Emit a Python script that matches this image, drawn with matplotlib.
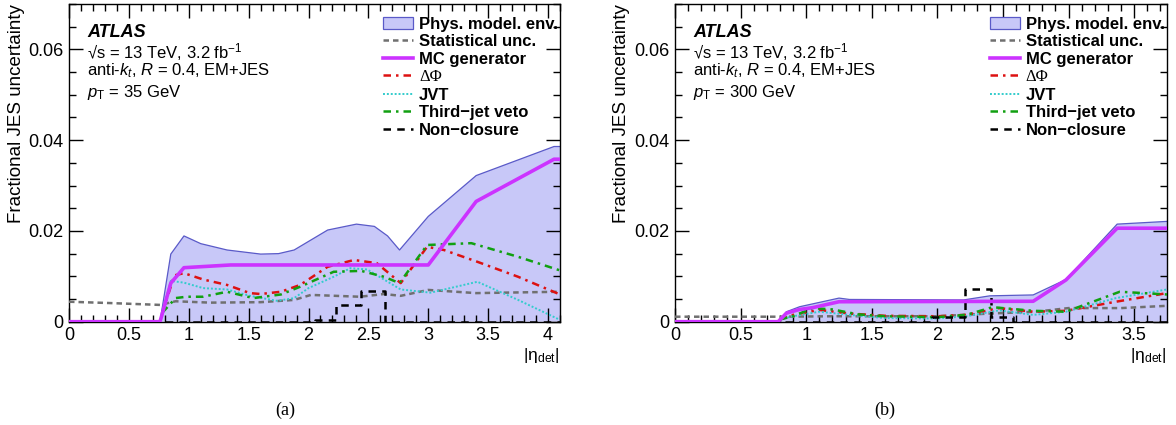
import matplotlib
matplotlib.use("Agg")
import matplotlib.pyplot as plt
from matplotlib.ticker import MultipleLocator, FuncFormatter
from matplotlib.patches import Patch
from matplotlib.lines import Line2D

plt.rcParams['font.family'] = ['Liberation Sans', 'DejaVu Sans']
plt.rcParams['mathtext.fontset'] = 'custom'
plt.rcParams['mathtext.rm'] = 'Liberation Sans'
plt.rcParams['mathtext.it'] = 'Liberation Sans:italic'
plt.rcParams['mathtext.bf'] = 'Liberation Sans:bold'

# ---------------- Panel (a): pT = 35 GeV ----------------
env_a_x = [0, 0.76, 0.85, 0.96, 1.1, 1.32, 1.6, 1.75, 1.88, 2.16, 2.4, 2.55, 2.66, 2.76, 3.0, 3.4, 4.05, 4.1]
env_a_y = [0, 0, 0.0149, 0.0189, 0.0172, 0.0158, 0.0149, 0.0150, 0.0158, 0.0202, 0.0215, 0.0210, 0.0189, 0.0158, 0.0232, 0.0322, 0.0386, 0.0386]
mc_a_x = [0, 0.76, 0.85, 0.96, 1.35, 3.0, 3.4, 4.05, 4.1]
mc_a_y = [0, 0, 0.0085, 0.0119, 0.0125, 0.0125, 0.0265, 0.0358, 0.0358]
stat_a_x = [0, 0.35, 0.76, 0.89, 1.18, 1.6, 1.88, 2.02, 2.43, 2.63, 2.77, 3.0, 3.4, 4.1]
stat_a_y = [0.0044, 0.0041, 0.0037, 0.0045, 0.0042, 0.0043, 0.0048, 0.0059, 0.0055, 0.0061, 0.0057, 0.0070, 0.0063, 0.0066]
dphi_a_x = [0.78, 0.88, 0.96, 1.12, 1.32, 1.51, 1.6, 1.77, 1.93, 2.16, 2.38, 2.57, 2.77, 2.99, 3.13, 3.41, 3.75, 4.1]
dphi_a_y = [0.002, 0.0102, 0.0107, 0.0093, 0.0081, 0.0063, 0.0061, 0.0066, 0.0081, 0.0121, 0.0136, 0.0129, 0.0085, 0.0165, 0.0158, 0.0132, 0.0099, 0.0060]
jvt_a_x = [0.78, 0.85, 0.96, 1.12, 1.32, 1.51, 1.74, 1.88, 2.0, 2.21, 2.35, 2.49, 2.77, 3.02, 3.41, 3.75, 4.1]
jvt_a_y = [0.002, 0.0090, 0.0086, 0.0074, 0.0071, 0.0057, 0.0046, 0.0052, 0.0074, 0.0099, 0.0118, 0.0115, 0.0071, 0.0064, 0.0088, 0.0048, 0.0004]
tjv_a_x = [0.78, 0.89, 0.98, 1.12, 1.32, 1.54, 1.77, 1.93, 2.21, 2.44, 2.63, 2.76, 2.99, 3.36, 3.75, 4.1]
tjv_a_y = [0.002, 0.0052, 0.0055, 0.0055, 0.0066, 0.0052, 0.0060, 0.0077, 0.0110, 0.0112, 0.0099, 0.0085, 0.0169, 0.0173, 0.0143, 0.0113]
nc_a_x = [0, 2.05, 2.23, 2.44, 2.64, 4.1]
nc_a_y = [0, 0.0004, 0.0037, 0.0068, 0, 0]

# ---------------- Panel (b): pT = 300 GeV ----------------
env_b_x = [0, 0.786, 0.85, 0.95, 1.25, 1.33, 2.2, 2.4, 2.73, 2.98, 3.37, 3.75]
env_b_y = [0, 0, 0.0022, 0.0033, 0.0052, 0.0049, 0.0048, 0.0057, 0.0059, 0.0093, 0.0215, 0.0221]
mc_b_x = [0, 0.786, 0.85, 0.95, 1.05, 1.25, 2.73, 2.98, 3.37, 3.75]
mc_b_y = [0, 0, 0.0019, 0.0027, 0.0031, 0.0044, 0.0045, 0.0092, 0.0206, 0.0206]
stat_b_x = [0, 0.8, 1.2, 1.6, 2.0, 2.4, 2.75, 3.0, 3.4, 3.75]
stat_b_y = [0.0011, 0.0011, 0.0012, 0.0012, 0.0012, 0.0018, 0.0022, 0.0030, 0.0030, 0.0035]
dphi_b_x = [0.8, 0.9, 1.1, 1.33, 1.6, 2.0, 2.22, 2.47, 2.73, 2.98, 3.36, 3.75]
dphi_b_y = [0.0005, 0.0015, 0.0026, 0.0018, 0.0013, 0.0012, 0.0015, 0.0030, 0.0022, 0.0024, 0.0044, 0.0063]
jvt_b_x = [0.8, 0.9, 1.1, 1.33, 1.6, 2.0, 2.22, 2.47, 2.73, 2.98, 3.36, 3.75]
jvt_b_y = [0.0005, 0.0012, 0.0022, 0.0015, 0.0008, 0.0007, 0.0012, 0.0025, 0.0015, 0.0022, 0.0052, 0.0071]
tjv_b_x = [0.8, 0.9, 1.05, 1.2, 1.4, 1.6, 2.0, 2.22, 2.42, 2.73, 2.98, 3.39, 3.75]
tjv_b_y = [0.0005, 0.0012, 0.0030, 0.0027, 0.0016, 0.0012, 0.0010, 0.0015, 0.0032, 0.0024, 0.0022, 0.0066, 0.0060]
nc_b_x = [0, 1.96, 2.21, 2.41, 2.58, 3.75]
nc_b_y = [0, 0.0010, 0.0071, 0.0010, 0, 0]

labels = ["Phys. model. env.", "Statistical unc.", "MC generator", "ΔΦ", "JVT", "Third\u2212jet veto", "Non\u2212closure"]

C_FILL = '#c8c8f8'
C_EDGE = '#5a5ac8'
C_MC = '#cc33ff'
C_STAT = '#707070'
C_DPHI = '#dd1111'
C_JVT = '#33cccc'
C_TJV = '#11a011'

fig = plt.figure(figsize=(11.76, 4.25), dpi=100)
axA = fig.add_axes([69/1176, 1 - 321.7/425, (560 - 69)/1176, (321.7 - 4)/425])
axB = fig.add_axes([675/1176, 1 - 321.7/425, (1167 - 675)/1176, (321.7 - 4)/425])

panels = [
    (axA, 4.1, "35", env_a_x, env_a_y, mc_a_x, mc_a_y, stat_a_x, stat_a_y, dphi_a_x, dphi_a_y,
     jvt_a_x, jvt_a_y, tjv_a_x, tjv_a_y, nc_a_x, nc_a_y),
    (axB, 3.75, "300", env_b_x, env_b_y, mc_b_x, mc_b_y, stat_b_x, stat_b_y, dphi_b_x, dphi_b_y,
     jvt_b_x, jvt_b_y, tjv_b_x, tjv_b_y, nc_b_x, nc_b_y),
]

fmt = FuncFormatter(lambda v, p: ("%g" % v))

for (ax, xmax, pt, ex, ey, mx, my, sx, sy, dx, dy, jx, jy, tx, ty, nx, ny) in panels:
    ax.fill_between(ex, ey, 0, facecolor=C_FILL, edgecolor='none', zorder=1)
    ax.plot(ex, ey, color=C_EDGE, lw=0.9, zorder=2)
    ax.plot(sx, sy, color=C_STAT, lw=1.8, ls=(0, (2.2, 1.6)), zorder=3)
    ax.plot(dx, dy, color=C_DPHI, lw=1.8, ls=(0, (3, 2, 1, 2)), zorder=4)
    ax.plot(jx, jy, color=C_JVT, lw=1.4, ls=(0, (1, 1)), zorder=4)
    ax.plot(tx, ty, color=C_TJV, lw=1.8, ls=(0, (3, 2, 1, 2)), zorder=4)
    ax.plot(nx, ny, color='black', lw=1.8, ls=(0, (3, 2.5)), drawstyle='steps-post', zorder=5)
    ax.plot(mx, my, color=C_MC, lw=2.6, zorder=6)

    ax.set_xlim(0, xmax)
    ax.set_ylim(0, 0.07)
    ax.xaxis.set_major_locator(MultipleLocator(0.5))
    ax.xaxis.set_minor_locator(MultipleLocator(0.1))
    ax.yaxis.set_major_locator(MultipleLocator(0.02))
    ax.yaxis.set_minor_locator(MultipleLocator(0.005))
    ax.xaxis.set_major_formatter(fmt)
    ax.yaxis.set_major_formatter(fmt)
    ax.tick_params(which='both', direction='in', top=True, right=True, width=1.0, colors='black')
    ax.tick_params(which='major', length=10, labelsize=13, pad=4)
    ax.tick_params(which='minor', length=5)
    for s in ax.spines.values():
        s.set_linewidth(1.0)

    ax.text(0.037, 0.91, "ATLAS", transform=ax.transAxes, fontsize=13, fontweight='bold',
            fontstyle='italic', va='center', ha='left')
    ax.text(0.037, 0.85, "√s = 13 TeV, 3.2 fb$^{-1}$", transform=ax.transAxes,
            fontsize=12, va='center', ha='left')
    ax.text(0.037, 0.79, r"anti-$k_{t}$, $R$ = 0.4, EM+JES", transform=ax.transAxes,
            fontsize=12, va='center', ha='left')
    ax.text(0.037, 0.72, r"$p_{\mathrm{T}}$ = " + pt + " GeV", transform=ax.transAxes,
            fontsize=12, va='center', ha='left')

    handles = [
        Patch(facecolor=C_FILL, edgecolor=C_EDGE, lw=0.9),
        Line2D([], [], color=C_STAT, lw=1.8, ls=(0, (2.2, 1.6))),
        Line2D([], [], color=C_MC, lw=2.6),
        Line2D([], [], color=C_DPHI, lw=1.8, ls=(0, (3, 2, 1, 2))),
        Line2D([], [], color=C_JVT, lw=1.4, ls=(0, (1, 1))),
        Line2D([], [], color=C_TJV, lw=1.8, ls=(0, (3, 2, 1, 2))),
        Line2D([], [], color='black', lw=1.8, ls=(0, (3, 2.5))),
    ]
    leg = ax.legend(handles, labels, loc='upper left', bbox_to_anchor=(0.64, 0.96),
                    frameon=False, fontsize=12, handlelength=1.8, handleheight=0.75,
                    handletextpad=0.35, labelspacing=0.15, borderpad=0, borderaxespad=0)
    for i, t in enumerate(leg.get_texts()):
        if i == 3:
            t.set_fontfamily('Liberation Serif')
            t.set_fontweight('normal')
        else:
            t.set_fontweight('bold')

    ax.text(1.0, -0.075, "|η$_{\\mathrm{det}}$|", transform=ax.transAxes, fontsize=12.5,
            ha='right', va='top')

fig.text(17/1176, 1 - 4/425, "Fractional JES uncertainty", rotation=90, fontsize=13.5,
         ha='center', va='top')
fig.text(622/1176, 1 - 4/425, "Fractional JES uncertainty", rotation=90, fontsize=13.5,
         ha='center', va='top')

fig.text(285/1176, 1 - 410/425, "(a)", fontsize=13, family='Liberation Serif', ha='center', va='center')
fig.text(885/1176, 1 - 410/425, "(b)", fontsize=13, family='Liberation Serif', ha='center', va='center')

fig.savefig("out.png", dpi=100)
